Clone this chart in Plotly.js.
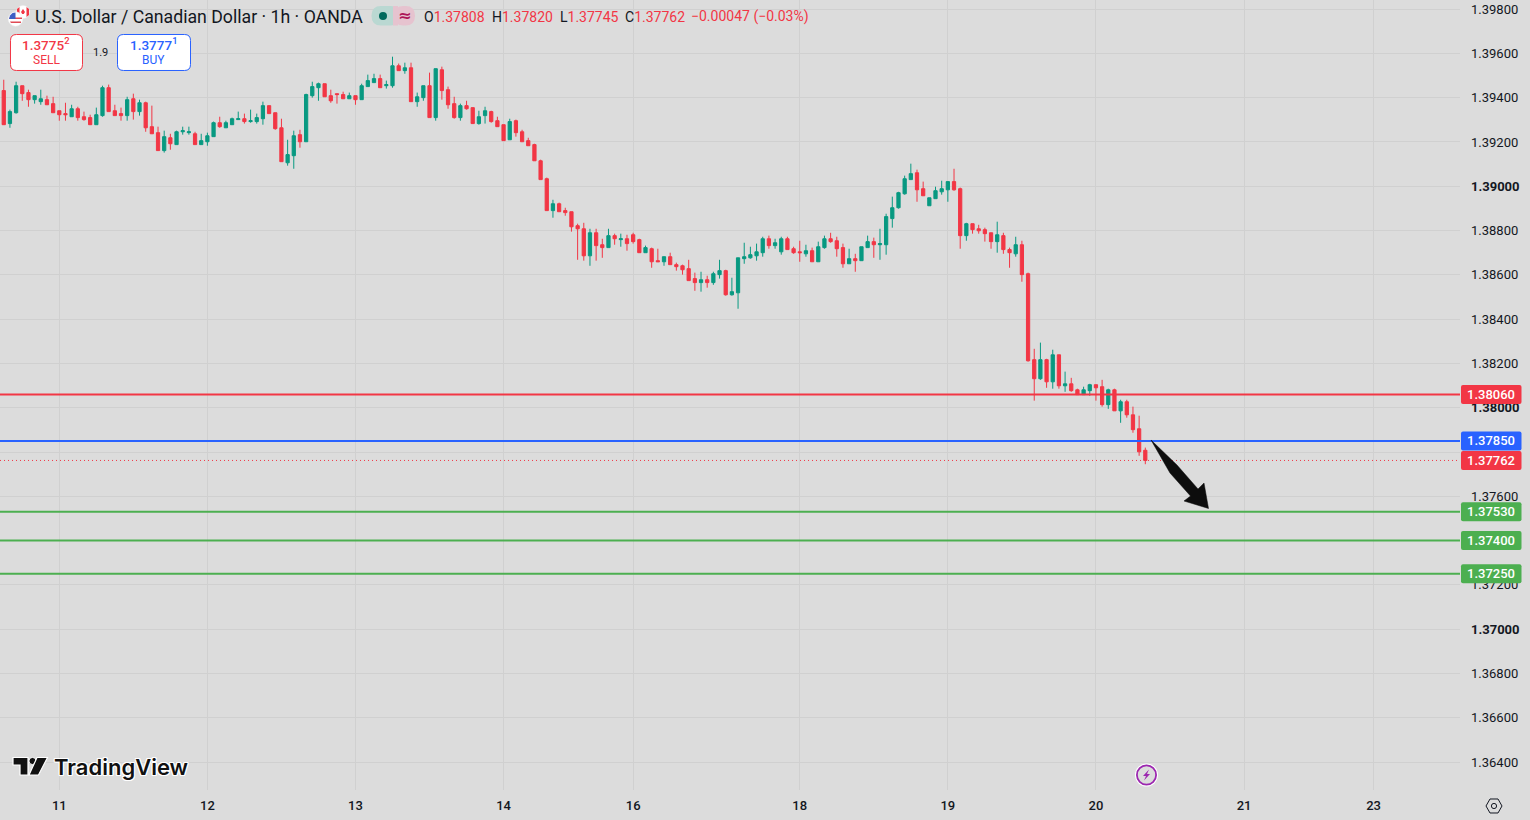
<!DOCTYPE html>
<html><head><meta charset="utf-8">
<script src="https://cdn.plot.ly/plotly-3.0.1.min.js"></script>
<style>html,body{margin:0;padding:0;background:#dcdcdc;overflow:hidden}#c{width:1530px;height:820px}</style>
</head><body><div id="c"></div>
<script>
const opens=[1.39432,1.39283,1.39332,1.39454,1.39423,1.39391,1.39382,1.39391,1.39373,1.39341,
1.39328,1.39314,1.39350,1.39314,1.39310,1.39278,1.39319,1.39445,1.39341,1.39328,
1.39319,1.39395,1.39337,1.39377,1.39269,1.39242,1.39161,1.39219,1.39188,1.39246,
1.39242,1.39237,1.39188,1.39201,1.39224,1.39287,1.39264,1.39278,1.39301,1.39305,
1.39292,1.39292,1.39305,1.39364,1.39332,1.39264,1.39106,1.39138,1.39233,1.39201,
1.39409,1.39445,1.39463,1.39409,1.39418,1.39414,1.39395,1.39409,1.39391,1.39450,
1.39468,1.39486,1.39454,1.39454,1.39544,1.39522,1.39535,1.39382,1.39400,1.39454,
1.39310,1.39526,1.39436,1.39373,1.39310,1.39364,1.39355,1.39283,1.39319,1.39337,
1.39296,1.39278,1.39210,1.39296,1.39246,1.39206,1.39188,1.39115,1.39034,1.38890,
1.38921,1.38890,1.38885,1.38822,1.38808,1.38686,1.38790,1.38736,1.38723,1.38777,
1.38759,1.38763,1.38781,1.38759,1.38700,1.38718,1.38664,1.38659,1.38682,1.38646,
1.38641,1.38628,1.38583,1.38565,1.38578,1.38565,1.38601,1.38619,1.38510,1.38519,
1.38673,1.38677,1.38686,1.38700,1.38763,1.38732,1.38704,1.38763,1.38718,1.38704,
1.38695,1.38709,1.38659,1.38723,1.38763,1.38754,1.38723,1.38650,1.38673,1.38664,
1.38723,1.38750,1.38736,1.38736,1.38854,1.38903,1.38966,1.39030,1.39061,1.38989,
1.38912,1.38944,1.38975,1.38984,1.39021,1.38989,1.38777,1.38831,1.38808,1.38804,
1.38790,1.38750,1.38777,1.38714,1.38695,1.38736,1.38605,1.38217,1.38131,1.38217,
1.38117,1.38239,1.38099,1.38108,1.38081,1.38059,1.38077,1.38104,1.38095,1.38014,
1.38081,1.37986,1.38027,1.37968,1.37905,1.37808];
const highs=[1.39481,1.39346,1.39472,1.39454,1.39436,1.39409,1.39436,1.39409,1.39404,1.39341,
1.39377,1.39368,1.39359,1.39337,1.39323,1.39355,1.39454,1.39459,1.39368,1.39355,
1.39404,1.39418,1.39391,1.39382,1.39364,1.39269,1.39251,1.39237,1.39251,1.39269,
1.39269,1.39246,1.39237,1.39242,1.39292,1.39314,1.39296,1.39310,1.39337,1.39328,
1.39346,1.39328,1.39382,1.39364,1.39332,1.39305,1.39210,1.39251,1.39255,1.39418,
1.39472,1.39468,1.39463,1.39436,1.39418,1.39427,1.39423,1.39409,1.39463,1.39504,
1.39508,1.39504,1.39477,1.39585,1.39554,1.39558,1.39558,1.39423,1.39454,1.39513,
1.39531,1.39540,1.39450,1.39404,1.39373,1.39386,1.39355,1.39341,1.39359,1.39341,
1.39314,1.39278,1.39305,1.39301,1.39255,1.39219,1.39192,1.39120,1.39039,1.38939,
1.38926,1.38903,1.38885,1.38831,1.38835,1.38808,1.38808,1.38763,1.38808,1.38786,
1.38786,1.38781,1.38790,1.38763,1.38732,1.38723,1.38718,1.38682,1.38700,1.38655,
1.38646,1.38668,1.38610,1.38614,1.38596,1.38614,1.38668,1.38623,1.38587,1.38677,
1.38745,1.38727,1.38741,1.38772,1.38777,1.38763,1.38772,1.38772,1.38727,1.38754,
1.38736,1.38723,1.38750,1.38777,1.38790,1.38772,1.38741,1.38718,1.38695,1.38727,
1.38777,1.38768,1.38808,1.38876,1.38953,1.38975,1.39048,1.39102,1.39075,1.39021,
1.38948,1.38998,1.39025,1.39021,1.39079,1.38994,1.38835,1.38831,1.38826,1.38813,
1.38790,1.38840,1.38790,1.38723,1.38772,1.38754,1.38610,1.38266,1.38294,1.38221,
1.38262,1.38239,1.38163,1.38135,1.38086,1.38095,1.38108,1.38104,1.38126,1.38086,
1.38086,1.38036,1.38036,1.38005,1.37964,1.37820];
const lows=[1.39278,1.39264,1.39328,1.39386,1.39359,1.39373,1.39368,1.39368,1.39332,1.39296,
1.39296,1.39314,1.39296,1.39296,1.39278,1.39278,1.39314,1.39337,1.39319,1.39296,
1.39296,1.39301,1.39319,1.39246,1.39237,1.39161,1.39152,1.39165,1.39188,1.39233,
1.39233,1.39188,1.39188,1.39183,1.39224,1.39264,1.39264,1.39278,1.39301,1.39283,
1.39287,1.39283,1.39278,1.39328,1.39255,1.39111,1.39093,1.39079,1.39174,1.39201,
1.39400,1.39386,1.39404,1.39377,1.39373,1.39395,1.39395,1.39368,1.39391,1.39450,
1.39468,1.39445,1.39441,1.39445,1.39522,1.39508,1.39382,1.39359,1.39386,1.39310,
1.39296,1.39391,1.39350,1.39305,1.39296,1.39346,1.39283,1.39278,1.39283,1.39287,
1.39269,1.39206,1.39210,1.39224,1.39201,1.39183,1.39115,1.39030,1.38890,1.38858,
1.38885,1.38867,1.38795,1.38668,1.38664,1.38641,1.38664,1.38677,1.38723,1.38736,
1.38727,1.38709,1.38741,1.38700,1.38700,1.38632,1.38659,1.38641,1.38646,1.38619,
1.38601,1.38574,1.38528,1.38524,1.38542,1.38555,1.38583,1.38506,1.38506,1.38447,
1.38650,1.38673,1.38664,1.38682,1.38718,1.38718,1.38691,1.38714,1.38695,1.38659,
1.38682,1.38659,1.38659,1.38718,1.38745,1.38682,1.38632,1.38650,1.38614,1.38664,
1.38723,1.38677,1.38668,1.38691,1.38813,1.38899,1.38962,1.39030,1.38930,1.38957,
1.38912,1.38944,1.38962,1.38930,1.38980,1.38718,1.38754,1.38786,1.38786,1.38750,
1.38718,1.38700,1.38695,1.38632,1.38682,1.38569,1.38208,1.38032,1.38126,1.38090,
1.38086,1.38086,1.38072,1.38072,1.38059,1.38059,1.38054,1.38032,1.38005,1.37995,
1.37986,1.37932,1.37955,1.37887,1.37783,1.37745];
const closes=[1.39278,1.39337,1.39454,1.39418,1.39391,1.39409,1.39395,1.39368,1.39332,1.39323,
1.39323,1.39350,1.39310,1.39301,1.39278,1.39323,1.39445,1.39337,1.39319,1.39319,
1.39391,1.39337,1.39377,1.39264,1.39237,1.39161,1.39224,1.39192,1.39246,1.39251,
1.39246,1.39188,1.39206,1.39228,1.39287,1.39269,1.39287,1.39305,1.39305,1.39292,
1.39296,1.39310,1.39364,1.39328,1.39260,1.39111,1.39143,1.39228,1.39201,1.39414,
1.39450,1.39463,1.39404,1.39386,1.39414,1.39395,1.39409,1.39391,1.39454,1.39477,
1.39486,1.39445,1.39459,1.39544,1.39522,1.39535,1.39382,1.39404,1.39454,1.39310,
1.39531,1.39432,1.39368,1.39310,1.39364,1.39350,1.39283,1.39314,1.39341,1.39292,
1.39269,1.39206,1.39292,1.39242,1.39201,1.39183,1.39115,1.39030,1.38890,1.38921,
1.38885,1.38881,1.38817,1.38808,1.38686,1.38790,1.38732,1.38723,1.38777,1.38763,
1.38763,1.38741,1.38750,1.38700,1.38723,1.38659,1.38659,1.38682,1.38646,1.38637,
1.38623,1.38574,1.38565,1.38578,1.38565,1.38605,1.38619,1.38510,1.38524,1.38677,
1.38682,1.38691,1.38704,1.38763,1.38732,1.38745,1.38763,1.38714,1.38700,1.38700,
1.38709,1.38659,1.38727,1.38763,1.38750,1.38718,1.38650,1.38673,1.38664,1.38727,
1.38750,1.38736,1.38741,1.38863,1.38903,1.38971,1.39034,1.39057,1.38984,1.38957,
1.38948,1.38980,1.38989,1.39021,1.38984,1.38777,1.38831,1.38804,1.38799,1.38786,
1.38750,1.38781,1.38714,1.38700,1.38736,1.38601,1.38212,1.38131,1.38217,1.38117,
1.38239,1.38099,1.38108,1.38077,1.38059,1.38081,1.38104,1.38090,1.38014,1.38081,
1.37986,1.38027,1.37968,1.37901,1.37801,1.37762];
const dayLabels=['11','12','13','14','16','18','19','20','21','23'];
const dayCandles=[10,34,58,82,103,130,154,178,202,223];
const priceTicks=[1.398,1.396,1.394,1.392,1.39,1.388,1.386,1.384,1.382,1.38,1.378,1.376,1.374,1.372,1.37,1.368,1.366,1.364];
const priceLabels=['1.39800','1.39600','1.39400','1.39200','<b>1.39000</b>','1.38800','1.38600','1.38400','1.38200','<b>1.38000</b>',' ','1.37600',' ','1.37200','<b>1.37000</b>','1.36800','1.36600','1.36400'];
const resistanceLevel=1.38060, entryLevel=1.37850;
const targetLevels=[1.37530,1.37400,1.37250];
const lastPrice=1.37762;

const RED='#F23645',GREEN='#089981',BLUE='#2962FF',TARGET='#4CAF50',BG='#dcdcdc',GRID='#d0d0d0',INK='#131722';
const PW=1460,PH=790;
const Y_TOP=1.39841,Y_BOT=1.36274;
const fx=x=>x/PW, fy=y=>1-y/PH;
const priceY=p=>(Y_TOP-p)/(Y_TOP-Y_BOT)*PH;
const poly=(pts,close=true)=>pts.map((p,i)=>(i?'L':'M')+fx(p[0]).toFixed(5)+','+fy(p[1]).toFixed(5)).join(' ')+(close?' Z':'');
function rr(x0,y0,x1,y1,r){
 const P=(x,y)=>fx(x).toFixed(5)+','+fy(y).toFixed(5);
 return `M${P(x0+r,y0)} L${P(x1-r,y0)} Q${P(x1,y0)} ${P(x1,y0+r)} L${P(x1,y1-r)} Q${P(x1,y1)} ${P(x1-r,y1)} L${P(x0+r,y1)} Q${P(x0,y1)} ${P(x0,y1-r)} L${P(x0,y0+r)} Q${P(x0,y0)} ${P(x0+r,y0)} Z`;
}
const pathS=(path,fill,color,width)=>({type:'path',xref:'paper',yref:'paper',layer:'above',path,fillcolor:fill||'rgba(0,0,0,0)',line:{color:color||'rgba(0,0,0,0)',width:width||0}});
const circ=(cx,cy,r,fill,color,width)=>({type:'circle',xref:'paper',yref:'paper',layer:'above',x0:fx(cx-r),x1:fx(cx+r),y0:fy(cy+r),y1:fy(cy-r),fillcolor:fill||'rgba(0,0,0,0)',line:{color:color||'rgba(0,0,0,0)',width:width||0}});
const hline=(p,color,w,dash)=>({type:'line',xref:'paper',yref:'y',layer:'above',x0:0,x1:1,y0:p,y1:p,line:{color,width:w,dash:dash||'solid'}});
const note=(x,y,text,size,color,extra)=>Object.assign({xref:'paper',yref:'paper',x:fx(x),y:fy(y),text,showarrow:false,xanchor:'left',yanchor:'middle',borderpad:0,font:{family:'Roboto, sans-serif',size,color}},extra||{});

const tag=(p,color)=>pathS(rr(1461,priceY(p)-9.5,1521.5,priceY(p)+9.5,2),color);
const tagText=(p)=>note(1491,priceY(p),p.toFixed(5),13,'#ffffff',{xanchor:'center',font:{family:'Roboto, sans-serif',size:13,color:'#ffffff',weight:500}});

const shapes=[
 hline(resistanceLevel,RED,2),hline(entryLevel,BLUE,2),hline(lastPrice,RED,1,'1px,3px'),
 ...targetLevels.map(p=>hline(p,TARGET,2)),
 tag(resistanceLevel,RED),tag(entryLevel,BLUE),tag(lastPrice,RED),...targetLevels.map(p=>tag(p,TARGET)),
 // arrow
 pathS(poly([[1151,440],[1177,465],[1198,489],[1204,483],[1208.5,508.5],[1184,501],[1190.5,496],[1170,473]]),'#0d0d0d','#0d0d0d',0.5),
 // sell / buy
 pathS(rr(10.5,34.5,82.5,70.5,6),'#ffffff',RED,1),
 pathS(rr(117.5,34.5,190.5,70.5,6),'#ffffff',BLUE,1),
 // flags
 circ(23,12,6.5,'#ffffff','#eeeeee',0.5),
 pathS(poly([[17,9],[19.5,7],[19.5,17],[17,15]]),RED),
 pathS(poly([[26.5,7],[29,9],[29,15],[26.5,17]]),RED),
 pathS(poly([[23,9],[25,12],[23.8,14],[22.2,14],[21,12]]),RED),
 circ(15.5,19,7.2,'#ffffff','#f5f5f5',0.5),
 pathS(poly([[9.5,17.5],[22,17.5],[22,19],[9.5,19]]),'#E04B55'),
 pathS(poly([[10,21.5],[21,21.5],[21,23],[11,23]]),'#E04B55'),
 pathS(poly([[9,19],[10,15.5],[12.5,13],[15.5,12.5],[15.5,19]]),'#3D5FC4'),
 // status pill
 pathS(rr(371.5,6,400,25.5,9.5),'#bad8d2'),
 pathS(rr(394,6,415,25.5,9.5),'#e6c3cf'),
 pathS(poly([[393,6],[398,6],[398,25.5],[393,25.5]]),'#e6c3cf'),
 circ(383,16,4,'#00695C'),
 // TradingView mark
 pathS(poly([[13,757.5],[28,757.5],[28,775],[20,775],[20,765],[13,765]]),'#111111','#ffffff',1.2),
 circ(32.5,761,3.6,'#111111','#ffffff',1),
 pathS(poly([[37,757.5],[47.5,757.5],[38.5,775],[29,775]]),'#111111','#ffffff',1.2),
 // event badge
 circ(1146.5,775,11.5,'#ffffff'),
 circ(1146.5,775,9.6,BG,'#9C27B0',1.8),
 pathS(poly([[1149,769.5],[1143,776],[1146,776],[1144,780.5],[1150,774],[1147,774]]),'#9C27B0'),
 // settings
 pathS(poly([[1486,806],[1490,799],[1498,799],[1502,806],[1498,813],[1490,813]]),null,INK,1),
 circ(1494,806,2.6,null,INK,1)
];

const annotations=[
 note(33.5,17,'U.S. Dollar / Canadian Dollar · 1h · OANDA',17.7,INK),
 note(422.5,16.5,`<span style="color:${INK}">O</span>1.37808`,14,RED),
 note(491,16.5,`<span style="color:${INK}">H</span>1.37820`,14,RED),
 note(559,16.5,`<span style="color:${INK}">L</span>1.37745`,14,RED),
 note(624,16.5,`<span style="color:${INK}">C</span>1.37762`,14,RED),
 note(689.5,16.5,'−0.00047 (−0.03%)',14,RED),
 note(404.5,16,'≈',16,'#AD1457',{xanchor:'center',font:{family:'DejaVu Sans, sans-serif',size:16,color:'#AD1457',weight:700}}),
 note(46,44.5,'1.3775<sup>2</sup>',13.5,RED,{xanchor:'center',font:{family:'Roboto, sans-serif',size:13.5,color:RED,weight:500}}),
 note(46,60,'SELL',12,RED,{xanchor:'center'}),
 note(100,52,'1.9',11,INK,{xanchor:'center'}),
 note(153.5,44.5,'1.3777<sup>1</sup>',13.5,BLUE,{xanchor:'center',font:{family:'Roboto, sans-serif',size:13.5,color:BLUE,weight:500}}),
 note(153.5,60,'BUY',12,BLUE,{xanchor:'center'}),
 note(53,767,'TradingView',22,'#111111',{font:{family:'Inter, sans-serif',size:22,color:'#111111',weight:600,shadow:'1px 0 0 #fff,-1px 0 0 #fff,0 1px 0 #fff,0 -1px 0 #fff,1px 1px 0 #fff,-1px -1px 0 #fff,1px -1px 0 #fff,-1px 1px 0 #fff'}}),
 tagText(resistanceLevel),tagText(entryLevel),tagText(lastPrice),...targetLevels.map(p=>tagText(p))
];

const trace={type:'candlestick',x:opens.map((_,i)=>i+1),open:opens,high:highs,low:lows,close:closes,
 increasing:{line:{color:GREEN,width:1},fillcolor:GREEN},
 decreasing:{line:{color:RED,width:1},fillcolor:RED},
 whiskerwidth:0,hoverinfo:'skip'};

Plotly.newPlot('c',[trace],{
 width:1530,height:820,paper_bgcolor:BG,plot_bgcolor:BG,showlegend:false,dragmode:false,
 margin:{l:0,r:70,t:0,b:30,pad:0},boxgap:0.25,
 font:{family:'Roboto, sans-serif',color:INK},
 xaxis:{range:[0.39,237],tickmode:'array',tickvals:dayCandles,ticktext:dayLabels,showgrid:true,gridcolor:GRID,gridwidth:1,zeroline:false,showline:false,ticks:'',ticklabelstandoff:6,rangeslider:{visible:false},fixedrange:true,tickfont:{family:'Roboto, sans-serif',size:13,color:INK,weight:500}},
 yaxis:{side:'right',range:[Y_BOT,Y_TOP],tickmode:'array',tickvals:priceTicks,ticktext:priceLabels,
  showgrid:true,gridcolor:GRID,gridwidth:1,zeroline:false,showline:false,ticks:'',ticklabelstandoff:10,fixedrange:true,tickfont:{family:'Roboto, sans-serif',size:13,color:INK}},
 shapes,annotations
},{displayModeBar:false,staticPlot:true});
</script></body></html>
